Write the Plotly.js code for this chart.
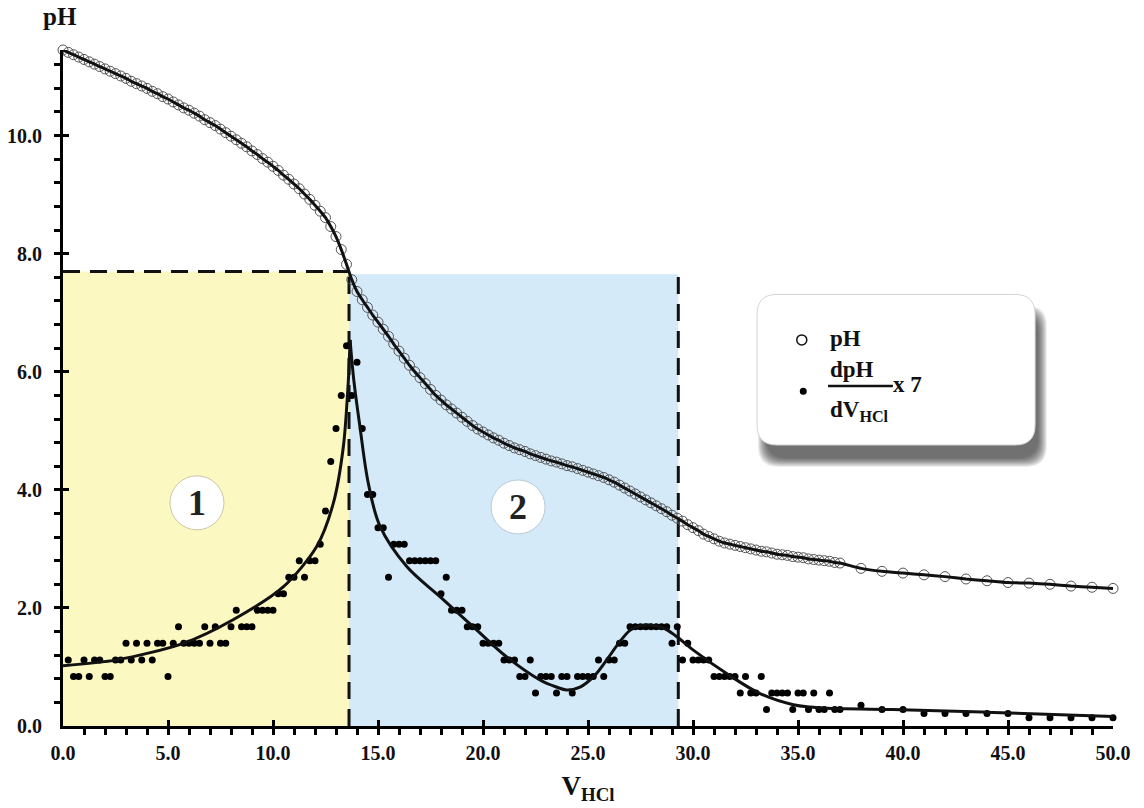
<!DOCTYPE html>
<html>
<head>
<meta charset="utf-8">
<script src="https://cdn.plot.ly/plotly-3.0.1.min.js"></script>
<style>html,body{margin:0;padding:0;background:#fff;}#chart{width:1144px;height:808px;}</style>
</head>
<body>
<div id="chart"></div>
<script>
// pH titration data (V HCl, mL)
const vPH = [0,0.25,0.5,0.75,1,1.25,1.5,1.75,2,2.25,2.5,2.75,3,3.25,3.5,3.75,4,4.25,4.5,4.75,5,5.25,5.5,5.75,6,6.25,6.5,6.75,7,7.25,7.5,7.75,8,8.25,8.5,8.75,9,9.25,9.5,9.75,10,10.25,10.5,10.75,11,11.25,11.5,11.75,12,12.25,12.5,12.75,13,13.25,13.5,13.75,14,14.25,14.5,14.75,15,15.25,15.5,15.75,16,16.25,16.5,16.75,17,17.25,17.5,17.75,18,18.25,18.5,18.75,19,19.25,19.5,19.75,20,20.25,20.5,20.75,21,21.25,21.5,21.75,22,22.25,22.5,22.75,23,23.25,23.5,23.75,24,24.25,24.5,24.75,25,25.25,25.5,25.75,26,26.25,26.5,26.75,27,27.25,27.5,27.75,28,28.25,28.5,28.75,29,29.25,29.5,29.75,30,30.25,30.5,30.75,31,31.25,31.5,31.75,32,32.25,32.5,32.75,33,33.25,33.5,33.75,34,34.25,34.5,34.75,35,35.25,35.5,35.75,36,36.25,36.5,36.75,37,38,39,40,41,42,43,44,45,46,47,48,49,50];
const pH = [11.45,11.41,11.37,11.33,11.29,11.25,11.21,11.17,11.13,11.09,11.05,11.01,10.97,10.92,10.88,10.84,10.80,10.75,10.71,10.66,10.62,10.57,10.52,10.47,10.43,10.38,10.33,10.27,10.22,10.17,10.11,10.05,9.99,9.93,9.87,9.81,9.74,9.68,9.61,9.55,9.48,9.41,9.33,9.26,9.18,9.10,9.01,8.92,8.82,8.72,8.61,8.46,8.29,8.07,7.82,7.56,7.36,7.22,7.09,6.96,6.84,6.72,6.60,6.47,6.35,6.23,6.11,6.00,5.90,5.80,5.70,5.60,5.52,5.44,5.37,5.30,5.23,5.16,5.09,5.03,4.98,4.93,4.88,4.84,4.79,4.75,4.71,4.68,4.65,4.61,4.58,4.55,4.52,4.49,4.47,4.44,4.41,4.39,4.36,4.33,4.30,4.27,4.24,4.21,4.17,4.13,4.08,4.03,3.98,3.93,3.88,3.83,3.78,3.73,3.68,3.63,3.57,3.52,3.47,3.41,3.36,3.31,3.25,3.21,3.17,3.13,3.10,3.08,3.06,3.04,3.02,3.00,2.98,2.96,2.95,2.93,2.91,2.90,2.89,2.87,2.86,2.85,2.83,2.82,2.81,2.80,2.79,2.77,2.76,2.67,2.62,2.59,2.56,2.53,2.49,2.46,2.43,2.42,2.40,2.37,2.35,2.33];

// derivative dpH/dV x 7
const vDer = [0.25,0.5,0.75,1,1.25,1.5,1.75,2,2.25,2.5,2.75,3,3.25,3.5,3.75,4,4.25,4.5,4.75,5,5.25,5.5,5.75,6,6.25,6.5,6.75,7,7.25,7.5,7.75,8,8.25,8.5,8.75,9,9.25,9.5,9.75,10,10.25,10.5,10.75,11,11.25,11.5,11.75,12,12.25,12.5,12.75,13,13.25,13.5,13.75,14,14.25,14.5,14.75,15,15.25,15.5,15.75,16,16.25,16.5,16.75,17,17.25,17.5,17.75,18,18.25,18.5,18.75,19,19.25,19.5,19.75,20,20.25,20.5,20.75,21,21.25,21.5,21.75,22,22.25,22.5,22.75,23,23.25,23.5,23.75,24,24.25,24.5,24.75,25,25.25,25.5,25.75,26,26.25,26.5,26.75,27,27.25,27.5,27.75,28,28.25,28.5,28.75,29,29.25,29.5,29.75,30,30.25,30.5,30.75,31,31.25,31.5,31.75,32,32.25,32.5,32.75,33,33.25,33.5,33.75,34,34.25,34.5,34.75,35,35.25,35.5,35.75,36,36.25,36.5,36.75,37,38,39,40,41,42,43,44,45,46,47,48,49,50];
const der = [1.12,0.84,0.84,1.12,0.84,1.12,1.12,0.84,0.84,1.12,1.12,1.40,1.12,1.40,1.12,1.40,1.12,1.40,1.40,0.84,1.40,1.68,1.40,1.40,1.40,1.40,1.68,1.40,1.68,1.40,1.40,1.68,1.96,1.68,1.68,1.68,1.96,1.96,1.96,1.96,2.24,2.24,2.52,2.52,2.80,2.52,2.80,2.80,3.08,3.64,4.48,5.04,5.60,6.44,5.60,6.16,5.04,3.92,3.92,3.36,3.36,2.52,3.08,3.08,3.08,2.80,2.80,2.80,2.80,2.80,2.80,2.24,2.52,1.96,1.96,1.96,1.68,1.68,1.68,1.40,1.40,1.40,1.40,1.12,1.12,1.12,0.84,0.84,1.12,0.56,0.84,0.84,0.84,0.56,0.84,0.84,0.56,0.84,0.84,0.84,0.84,1.12,0.84,1.12,1.12,1.40,1.40,1.68,1.68,1.68,1.68,1.68,1.68,1.68,1.68,1.40,1.68,1.12,1.40,1.12,1.12,1.12,1.12,0.84,0.84,0.84,0.84,0.84,0.56,0.84,0.56,0.56,0.84,0.28,0.56,0.56,0.56,0.56,0.28,0.56,0.56,0.28,0.56,0.28,0.28,0.56,0.28,0.28,0.35,0.28,0.28,0.21,0.21,0.21,0.21,0.21,0.14,0.14,0.14,0.14,0.14];

// smoothed fit of the derivative (rising branch and falling branch)
const fitRiseX = [0,2.56,5.73,8.1,10.5,12.08,12.87,13.35,13.59,13.67];
const fitRiseY = [1.02,1.12,1.40,1.80,2.36,3.04,3.77,4.73,5.86,6.54];
const fitFallX = [13.67,13.85,14.14,14.54,15.1,16.37,17.95,19.54,21.13,22.71,23.5,23.98,24.62,25.3,25.89,26.5,27.0,27.5,27.9,28.6,29.2,30.0,31.6,33.19,34.78,35.6,36.37,39.5,44.3,50];
const fitFallY = [6.54,5.85,5.07,4.11,3.38,2.70,2.19,1.68,1.17,0.78,0.66,0.61,0.66,0.85,1.12,1.42,1.62,1.70,1.71,1.66,1.52,1.29,0.89,0.55,0.36,0.32,0.30,0.28,0.23,0.16];

// regions
const region1 = [0, 13.62];
const region2 = [13.62, 29.3];
const regionTop = 7.7;

const serif = 'Liberation Serif, Times New Roman, serif';

const traces = [
  {x: vPH, y: pH, mode: 'markers', type: 'scatter', cliponaxis: false,
   marker: {symbol: 'circle-open', size: 10, color: '#555', line: {width: 1, color: '#555'}}, hoverinfo: 'skip'},
  {x: vPH, y: pH, mode: 'lines', type: 'scatter', line: {color: '#111', width: 3, shape: 'spline', smoothing: 0.6}, hoverinfo: 'skip'},
  {x: vDer, y: der, mode: 'markers', type: 'scatter', cliponaxis: false,
   marker: {symbol: 'circle', size: 7, color: '#000'}, hoverinfo: 'skip'},
  {x: fitRiseX, y: fitRiseY, mode: 'lines', type: 'scatter', line: {color: '#111', width: 3, shape: 'spline', smoothing: 0.8}, hoverinfo: 'skip'},
  {x: fitFallX, y: fitFallY, mode: 'lines', type: 'scatter', line: {color: '#111', width: 3, shape: 'spline', smoothing: 1}, hoverinfo: 'skip'}
];

// legend box geometry (data coords)
const bx0 = 33.05, bx1 = 46.29, by0 = 4.76, by1 = 7.31, rx = 0.95, ry = 0.34;
function rrect(dx, dy, g) {
  const x0 = bx0 + dx - g, x1 = bx1 + dx + g, y0 = by0 + dy - g * 0.35, y1 = by1 + dy + g * 0.35;
  return `M ${x0+rx},${y1} L ${x1-rx},${y1} Q ${x1},${y1} ${x1},${y1-ry} L ${x1},${y0+ry} Q ${x1},${y0} ${x1-rx},${y0} L ${x0+rx},${y0} Q ${x0},${y0} ${x0},${y0+ry} L ${x0},${y1-ry} Q ${x0},${y1} ${x0+rx},${y1} Z`;
}

const dash = '17px,10px';
const shapes = [
  {type: 'rect', xref: 'x', yref: 'y', x0: region1[0], x1: region1[1], y0: 0, y1: regionTop, fillcolor: '#fcf8c2', line: {width: 0}, layer: 'below'},
  {type: 'rect', xref: 'x', yref: 'y', x0: region2[0], x1: region2[1], y0: 0, y1: regionTop - 0.05, fillcolor: '#d5eaf9', line: {width: 0}, layer: 'below'},
  {type: 'line', xref: 'x', yref: 'y', x0: 0, x1: region1[1], y0: regionTop, y1: regionTop, line: {color: '#111', width: 3, dash: dash}, layer: 'below'},
  {type: 'line', xref: 'x', yref: 'y', x0: region1[1], x1: region1[1], y0: 0, y1: regionTop, line: {color: '#111', width: 3, dash: dash}, layer: 'below'},
  {type: 'line', xref: 'x', yref: 'y', x0: region2[1], x1: region2[1], y0: 0, y1: regionTop, line: {color: '#111', width: 3, dash: dash}, layer: 'below'},
  // circled labels
  {type: 'circle', xref: 'x', yref: 'y', xsizemode: 'pixel', ysizemode: 'pixel', xanchor: 6.38, yanchor: 3.78, x0: -27, x1: 27, y0: -27, y1: 27, fillcolor: '#fff', line: {color: '#cdc6a8', width: 1}},
  {type: 'circle', xref: 'x', yref: 'y', xsizemode: 'pixel', ysizemode: 'pixel', xanchor: 21.67, yanchor: 3.71, x0: -27, x1: 27, y0: -27, y1: 27, fillcolor: '#fff', line: {color: '#b9c9d6', width: 1}},
];
// legend shadow (soft, mostly below) + box
for (let i = 0; i < 9; i++) {
  const g = 0.05 + i * 0.05;
  shapes.push({type: 'path', xref: 'x', yref: 'y', path: rrect(0.3, -0.28, g - 0.2), fillcolor: 'rgba(30,30,30,0.1)', line: {width: 0}});
}
shapes.push({type: 'path', xref: 'x', yref: 'y', path: rrect(0, 0, 0), fillcolor: '#fff', line: {color: '#d4d4d4', width: 1}});
// legend glyphs
shapes.push({type: 'circle', xref: 'x', yref: 'y', xsizemode: 'pixel', ysizemode: 'pixel', xanchor: 35.18, yanchor: 6.54, x0: -5, x1: 5, y0: -5, y1: 5, fillcolor: 'rgba(0,0,0,0)', line: {color: '#111', width: 1.5}});
shapes.push({type: 'circle', xref: 'x', yref: 'y', xsizemode: 'pixel', ysizemode: 'pixel', xanchor: 35.25, yanchor: 5.67, x0: -3.5, x1: 3.5, y0: -3.5, y1: 3.5, fillcolor: '#000', line: {color: '#000', width: 0}});
// fraction bar
shapes.push({type: 'line', xref: 'x', yref: 'y', x0: 36.43, x1: 39.52, y0: 5.76, y1: 5.76, line: {color: '#111', width: 2.5}});

const bold = {family: serif, size: 23, color: '#111', weight: 'bold'};
const annotations = [
  {xref: 'paper', yref: 'paper', x: -0.003, y: 1.0, yshift: 34, text: 'pH', showarrow: false, font: {family: serif, size: 25, color: '#111', weight: 'bold'}, xanchor: 'center', yanchor: 'middle'},
  {xref: 'x', yref: 'y', x: 6.38, y: 3.78, text: '1', showarrow: false, font: {family: serif, size: 36, color: '#222', weight: 'bold'}},
  {xref: 'x', yref: 'y', x: 21.67, y: 3.71, text: '2', showarrow: false, font: {family: serif, size: 36, color: '#222', weight: 'bold'}},
  {xref: 'x', yref: 'y', x: 36.43, y: 6.57, text: 'pH', showarrow: false, xanchor: 'left', font: bold},
  {xref: 'x', yref: 'y', x: 36.43, y: 6.04, text: 'dpH', showarrow: false, xanchor: 'left', font: bold},
  {xref: 'x', yref: 'y', x: 36.43, y: 5.34, text: 'dV<sub>HCl</sub>', showarrow: false, xanchor: 'left', font: bold},
  {xref: 'x', yref: 'y', x: 39.45, y: 5.78, text: 'x 7', showarrow: false, xanchor: 'left', font: bold}
];

const tickfont = {family: serif, size: 20, color: '#111', weight: 'bold'};
const layout = {
  width: 1144, height: 808,
  margin: {l: 63, r: 31, t: 50, b: 82},
  paper_bgcolor: '#fff', plot_bgcolor: '#fff',
  showlegend: false,
  xaxis: {range: [0, 50], showline: true, linewidth: 3, linecolor: '#000', mirror: false,
    showgrid: false, zeroline: false, ticks: 'inside', ticklen: 6, tickwidth: 3, tickcolor: '#000',
    tick0: 0, dtick: 5, tickformat: '.1f', tickfont: tickfont, ticklabelstandoff: 7,
    minor: {dtick: 1, ticks: 'outside', ticklen: 6, tickwidth: 3, tickcolor: '#000', showgrid: false},
    title: {text: 'V<sub>HCl</sub>', font: {family: serif, size: 27, color: '#111', weight: 'bold'}, standoff: 14}},
  yaxis: {range: [0, 11.45], showline: true, linewidth: 3, linecolor: '#000',
    showgrid: false, zeroline: false, ticks: 'inside', ticklen: 6, tickwidth: 3, tickcolor: '#000',
    tick0: 0, dtick: 2, tickformat: '.1f', tickfont: tickfont, ticklabelstandoff: 14,
    minor: {dtick: 0.4, ticks: 'outside', ticklen: 6, tickwidth: 3, tickcolor: '#000', showgrid: false}},
  shapes: shapes,
  annotations: annotations
};

Plotly.newPlot('chart', traces, layout, {displayModeBar: false, staticPlot: true});
</script>
</body>
</html>
